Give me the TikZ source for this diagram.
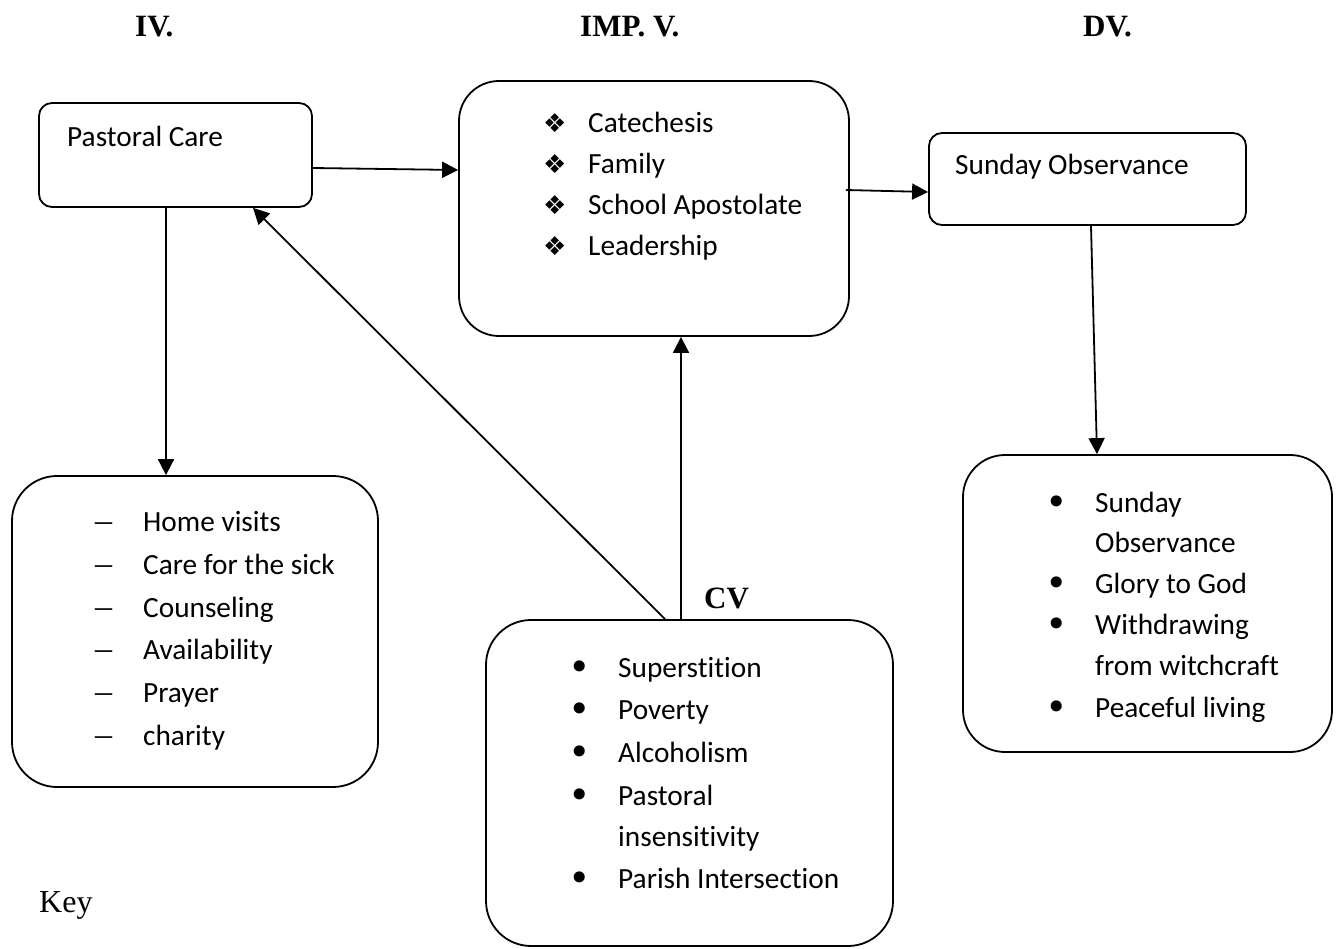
\documentclass[tikz,border=0pt]{standalone}
\usepackage{fontspec}
\setmainfont{Carlito}[Ligatures=NoCommon]
\newfontfamily\serifhead{Liberation Serif}
\newfontfamily\symfont{DejaVu Sans}
\usetikzlibrary{arrows.meta,calc}
\tikzset{
  box/.style={draw, line width=1.8pt, rounded corners=#1, inner sep=0pt},
  box/.default=13pt,
  arr/.style={line width=1.8pt, -{Triangle[length=16pt,width=16pt]}},
  txt/.style={anchor=base west, inner sep=0pt, font=\fontsize{29.3}{35}\selectfont},
  head/.style={anchor=base west, inner sep=0pt, font=\fontsize{31}{37}\selectfont\serifhead\bfseries},
}
\newcommand{\dia}{\makebox[45pt][l]{\symfont\fontsize{26}{28}\selectfont ❖}}
\newcommand{\dsh}{\makebox[48pt][l]{\serifhead\fontsize{34}{38}\selectfont –}}
\newcommand{\blt}{\makebox[42pt][l]{\hspace{-8pt}\raisebox{-3pt}{\symfont\fontsize{38}{40}\selectfont •}}}
\begin{document}
\begin{tikzpicture}[x=1pt,y=-1pt]
\useasboundingbox (0,0) rectangle (1338,949);
% headers
\node[head] (hiv) at (135,37) {IV.};
\node[head] (himp) at (580,37) {IMP. V.};
\node[head] (hdv) at (1083,37) {DV.};
% boxes
\node[box, minimum width=273pt, minimum height=104pt] (pc) at (175.5,155) {};
\node[box=40pt, minimum width=390pt, minimum height=255pt] (imp) at (654,208.5) {};
\node[box, minimum width=317pt, minimum height=92pt] (so) at (1087.5,179) {};
\node[box=45pt, minimum width=366pt, minimum height=311pt] (lb) at (195,631.5) {};
\node[box=45pt, minimum width=407pt, minimum height=326pt] (cv) at (689.5,783) {};
\node[box=42pt, minimum width=369pt, minimum height=297pt] (rb) at (1147.5,603.5) {};
% texts
\node[txt] (tpc) at (67,147) {Pastoral Care};
\node[txt] (tso) at (955,175) {Sunday Observance};
\node[txt] (i1) at (543,133) {\dia Catechesis};
\node[txt] (i2) at (543,174) {\dia Family};
\node[txt] (i3) at (543,215) {\dia School Apostolate};
\node[txt] (i4) at (543,256) {\dia Leadership};
\node[txt] (l1) at (95,531) {\dsh Home visits};
\node[txt] (l2) at (95,574) {\dsh Care for the sick};
\node[txt] (l3) at (95,617) {\dsh Counseling};
\node[txt] (l4) at (95,659) {\dsh Availability};
\node[txt] (l5) at (95,702) {\dsh Prayer};
\node[txt] (l6) at (95,745) {\dsh charity};
\node[txt] (c1) at (576,677) {\blt Superstition};
\node[txt] (c2) at (576,719) {\blt Poverty};
\node[txt] (c3) at (576,762) {\blt Alcoholism};
\node[txt] (c4) at (576,805) {\blt Pastoral};
\node[txt] (c4b) at (618,846) {insensitivity};
\node[txt] (c5) at (576,888) {\blt Parish Intersection};
\node[txt] (r1) at (1053,512) {\blt Sunday};
\node[txt] (r1b) at (1095,552) {Observance};
\node[txt] (r2) at (1053,593) {\blt Glory to God};
\node[txt] (r3) at (1053,634) {\blt Withdrawing};
\node[txt] (r3b) at (1095,675) {from witchcraft};
\node[txt] (r4) at (1053,717) {\blt Peaceful living};
\node[head] (cvl) at (704,608) {CV};
\node[anchor=base west, inner sep=0pt, font=\fontsize{32}{38}\selectfont\serifhead] (key) at (39,912) {Key};
% connectors
\draw[arr] ([yshift=-13pt]pc.east) -- ([yshift=38.5pt]imp.west);
\draw[arr] ([xshift=-4pt,yshift=18.5pt]imp.east) -- ([yshift=-13pt]so.west);
\draw[arr] ([xshift=-9.5pt]pc.south) -- ([xshift=-29pt]lb.north);
\draw[arr] ([xshift=3.5pt]so.south) -- ([xshift=-50.5pt]rb.north);
\draw[arr] ([xshift=-8.5pt]cv.north) -- ([xshift=27pt]imp.south);
\draw[arr] ([xshift=-24.5pt]cv.north) -- ([xshift=77.5pt]pc.south);
\end{tikzpicture}
\end{document}
